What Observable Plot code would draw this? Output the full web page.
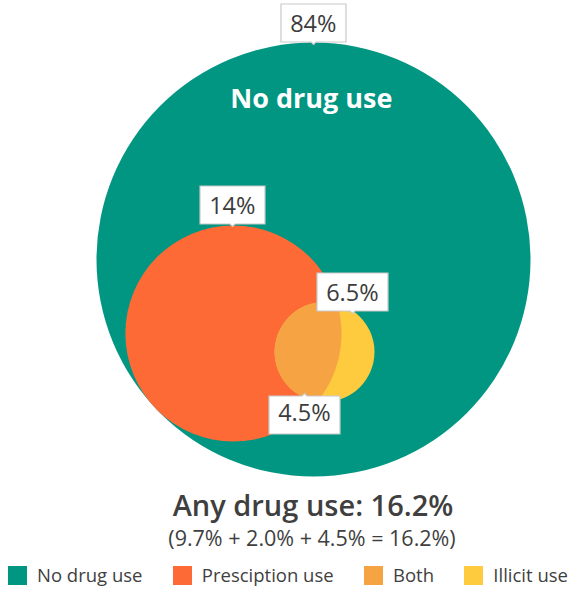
<!DOCTYPE html>
<html><head><meta charset="utf-8">
<script src="https://cdn.jsdelivr.net/npm/d3@7"></script>
<script src="https://cdn.jsdelivr.net/npm/@observablehq/plot@0.6"></script>
<style>
body{margin:0;background:#fff;font-family:"Open Sans",sans-serif;color:#3f3f3f;}
#chart{width:570px;height:589px;}
.title{text-align:center;font-size:29px;font-weight:600;height:38px;line-height:38px;margin-top:-2px;padding-left:56px;}
.subtitle{text-align:center;font-size:21.5px;font-weight:400;height:28px;line-height:28px;padding-left:54px;}
.lg-swatches{font-family:"Open Sans",sans-serif !important;font-size:18.5px !important;line-height:20px !important;color:#3f3f3f;margin:13px 0 0 0 !important;}
.lg-swatches-wrap{justify-content:space-between;padding:0 2px 0 8px;min-height:20px !important;height:20px;flex-wrap:nowrap !important;}
.lg-swatch{margin-right:0 !important;line-height:20px;}
.lg-swatch > svg{margin-right:10px !important;}
</style></head><body><div id="chart"></div><script>
// categories and colours
const groups = ["No drug use", "Presciption use", "Both", "Illicit use"];
const colors = ["#009682", "#FD6A36", "#F6A344", "#FECB3F"];

// circles of the diagram (big circle radius = 1 unit)
const circleGroup = ["No drug use", "Illicit use", "Presciption use"];
const circleX = [0, 0.051, -0.369];
const circleY = [0, 0.426, 0.341];
const circleR = [1, 0.230, 0.498];

// value labels
const labelText = ["84%", "14%", "6.5%", "4.5%"];
const labelX = [0, -0.373, 0.180, -0.041];
const labelY = [-0.99, -0.152, 0.249, 0.618];
const labelAnchor = ["bottom", "bottom", "bottom", "top"];

const titleText = "Any drug use: 16.2%";
const subtitleText = "(9.7% + 2.0% + 4.5% = 16.2%)";

// layout
const W = 570, H = 488, unit = 217, cx0 = 313, cy0 = 259;

const circles = circleGroup.map((g, i) => ({group: g, x: circleX[i], y: circleY[i], r: circleR[i]}));
const labels = labelText.map((t, i) => ({text: t, x: labelX[i], y: labelY[i], anchor: labelAnchor[i]}));

// lens (overlap of prescription and illicit circles)
const A = circles.find(d => d.group === "Presciption use");
const B = circles.find(d => d.group === "Illicit use");
const dx = B.x - A.x, dy = B.y - A.y, d = Math.hypot(dx, dy);
const a = (d * d + A.r * A.r - B.r * B.r) / (2 * d);
const alpha = Math.acos(a / A.r), beta = Math.acos((d - a) / B.r);
const th = Math.atan2(dy, dx);
const lens = [];
const N = 80;
for (let i = 0; i <= N; i++) {
  const t = th - alpha + 2 * alpha * i / N;
  lens.push({x: A.x + A.r * Math.cos(t), y: A.y + A.r * Math.sin(t)});
}
for (let i = 0; i <= N; i++) {
  const t = th + Math.PI - beta + 2 * beta * i / N;
  lens.push({x: B.x + B.r * Math.cos(t), y: B.y + B.r * Math.sin(t)});
}

const tipOpts = {
  x: "x", y: "y", title: d => "\u2008" + d.text + "\u2008",
  fill: "white", stroke: "#c9c9c9", strokeWidth: 1.2,
  pointerSize: 5, textPadding: 3, fontSize: 23.5, lineHeight: 0.98, fontWeight: 500,
  fontFamily: "Open Sans, sans-serif", pathFilter: "none"
};

const plot = Plot.plot({
  width: W, height: H,
  marginTop: 0, marginRight: 0, marginBottom: 0, marginLeft: 0,
  x: {domain: [-cx0 / unit, (W - cx0) / unit], range: [0, W], axis: null},
  y: {domain: [-cy0 / unit, (H - cy0) / unit], range: [0, H], axis: null},
  r: {type: "linear", domain: [0, 1], range: [0, unit]},
  color: {domain: groups, range: colors},
  style: {color: "#3c3c3c", background: "white"},
  marks: [
    Plot.dot(circles, {x: "x", y: "y", r: "r", fill: "group", stroke: "none"}),
    Plot.line(lens, {x: "x", y: "y", fill: colors[2], stroke: "none"}),
    Plot.text(["No drug use"], {x: -0.01, y: -0.737, text: d => d, fill: "white", fontSize: 27, fontWeight: 700, fontFamily: "Open Sans, sans-serif"}),
    Plot.tip(labels.filter(d => d.anchor === "bottom"), {...tipOpts, anchor: "bottom"}),
    Plot.tip(labels.filter(d => d.anchor === "top"), {...tipOpts, anchor: "top"})
  ]
});

const root = document.getElementById("chart");
root.appendChild(plot);
const t = document.createElement("div"); t.className = "title"; t.textContent = titleText; root.appendChild(t);
const s = document.createElement("div"); s.className = "subtitle"; s.textContent = subtitleText; root.appendChild(s);
const legend = Plot.legend({color: {type: "ordinal", domain: groups, range: colors}, swatchSize: 19, className: "lg"});
root.appendChild(legend);
</script></body></html>
